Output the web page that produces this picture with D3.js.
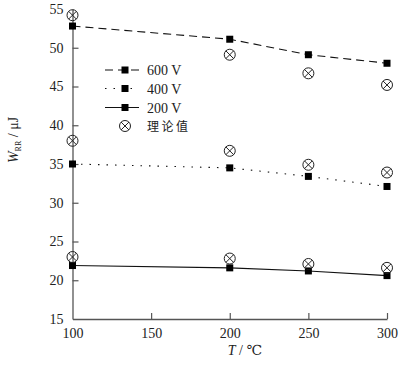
<!DOCTYPE html>
<html>
<head>
<meta charset="utf-8">
<script src="https://cdn.jsdelivr.net/npm/d3@7"></script>
<style>
  body { margin: 0; background: #fff; }
  svg text { font-family: "Liberation Serif", "Times New Roman", Times, "DejaVu Serif", "Noto Serif", serif; }
</style>
</head>
<body>
<svg id="chart" width="406" height="366"></svg>
<script>
// ---- données ----
let temps = [100, 200, 250, 300];
let mesure600 = [52.8, 51.1, 49.1, 48.0];
let mesure400 = [35.0, 34.5, 33.4, 32.1];
let mesure200 = [21.9, 21.6, 21.2, 20.6];
let theorie600 = [54.2, 49.1, 46.7, 45.2];
let theorie400 = [38.0, 36.7, 34.9, 33.9];
let theorie200 = [23.0, 22.8, 22.1, 21.6];
let xTicks = [100, 150, 200, 250, 300];
let yTicks = [15, 20, 25, 30, 35, 40, 45, 50, 55];
let legendLabels = ["600 V", "400 V", "200 V"];

let series = [
  { label: legendLabels[0], values: mesure600, dash: "8,5" },
  { label: legendLabels[1], values: mesure400, dash: "1.5,7" },
  { label: legendLabels[2], values: mesure200, dash: null }
];
let theory = [theorie600, theorie400, theorie200];

let svg = d3.select("#chart");

let x = d3.scaleLinear().domain([100, 300]).range([72.5, 387]);
let y = d3.scaleLinear().domain([15, 55]).range([319, 9]);

let axisColor = "#555";

// axes (ticks vers l'intérieur)
let xAxis = svg.append("g")
  .attr("transform", `translate(0,${y(15)})`)
  .call(d3.axisBottom(x).tickValues(xTicks).tickSize(-6).tickPadding(9).tickSizeOuter(0));
let yAxis = svg.append("g")
  .attr("transform", `translate(${x(100)},0)`)
  .call(d3.axisLeft(y).tickValues(yTicks).tickSize(-6).tickPadding(9).tickSizeOuter(0));

[xAxis, yAxis].forEach(a => {
  a.attr("font-family", null);
  a.select(".domain").attr("stroke", axisColor).attr("stroke-width", 1.3);
  a.selectAll(".tick line").attr("stroke", axisColor).attr("stroke-width", 1.2);
  a.selectAll(".tick text")
    .attr("fill", "#222")
    .style("font-size", "14px");
});
// pas de tick au coin ni en haut
xAxis.selectAll(".tick").filter(d => d === 100).select("line").remove();
yAxis.selectAll(".tick").filter(d => d === 15 || d === 55).select("line").remove();

// courbes mesurées
let line = d3.line().x((d, i) => x(temps[i])).y(d => y(d));

series.forEach(s => {
  svg.append("path")
    .attr("d", line(s.values))
    .attr("fill", "none")
    .attr("stroke", "#111")
    .attr("stroke-width", 1.1)
    .attr("stroke-dasharray", s.dash);
});

function drawSquare(g, cx, cy) {
  g.append("rect")
    .attr("x", cx - 3.5).attr("y", cy - 3.5)
    .attr("width", 7).attr("height", 7)
    .attr("fill", "#000");
}

function drawOtimes(g, cx, cy) {
  let r = 5.5, k = r * 0.72;
  g.append("circle").attr("cx", cx).attr("cy", cy).attr("r", r)
    .attr("fill", "none").attr("stroke", "#222").attr("stroke-width", 1);
  g.append("path")
    .attr("d", `M${cx - k},${cy - k}L${cx + k},${cy + k}M${cx + k},${cy - k}L${cx - k},${cy + k}`)
    .attr("stroke", "#222").attr("stroke-width", 1);
}

let marks = svg.append("g");
series.forEach(s => {
  s.values.forEach((v, i) => drawSquare(marks, x(temps[i]), y(v)));
});
theory.forEach(vals => {
  vals.forEach((v, i) => drawOtimes(marks, x(temps[i]), y(v)));
});

// légende
let leg = svg.append("g");
let legY = [70, 88.5, 107.5];
series.forEach((s, i) => {
  leg.append("line")
    .attr("x1", 105).attr("x2", 139)
    .attr("y1", legY[i]).attr("y2", legY[i])
    .attr("stroke", "#111").attr("stroke-width", 1.1)
    .attr("stroke-dasharray", s.dash);
  drawSquare(leg, 125, legY[i]);
  leg.append("text")
    .attr("x", 147).attr("y", legY[i] + 5)
    .style("font-size", "14px")
    .attr("fill", "#222")
    .text(s.label);
});
drawOtimes(leg, 125, 126);
leg.append("text")
  .attr("x", 147).attr("y", 131)
  .style("font-family", "Noto Sans CJK SC")
  .style("font-size", "12px")
  .style("letter-spacing", "2.5px")
  .attr("fill", "#222")
  .text("理论值");

// titres des axes
let yl = svg.append("text")
  .attr("transform", "translate(18,140) rotate(-90)")
  .attr("text-anchor", "middle")
  .style("font-size", "14px")
  .attr("fill", "#222");
yl.append("tspan").style("font-style", "italic").text("W");
yl.append("tspan").attr("dy", 3).style("font-size", "8px").text("RR");
yl.append("tspan").attr("dy", -3).text(" / μJ");

let xl = svg.append("text")
  .attr("x", 245).attr("y", 355)
  .attr("text-anchor", "middle")
  .style("font-size", "14px")
  .attr("fill", "#222");
xl.append("tspan").style("font-style", "italic").text("T");
xl.append("tspan").text(" / ℃");
</script>
</body>
</html>
